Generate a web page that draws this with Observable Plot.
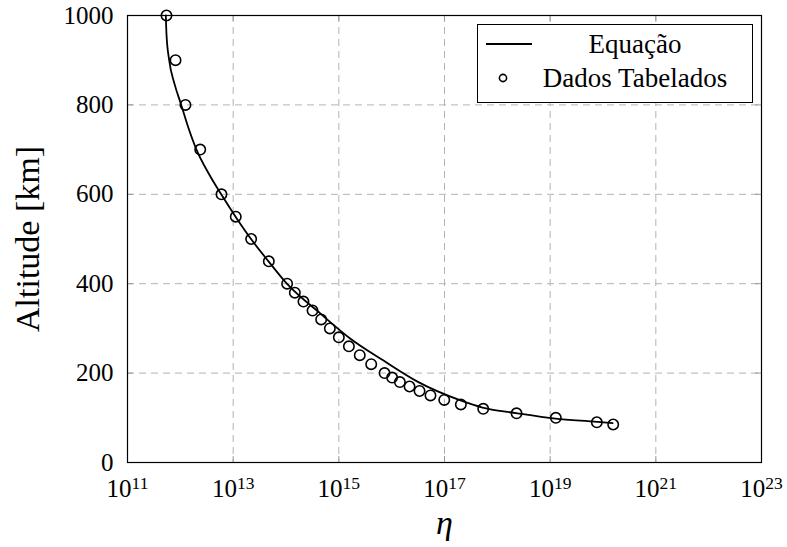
<!DOCTYPE html>
<html>
<head>
<meta charset="utf-8">
<script src="https://cdn.jsdelivr.net/npm/d3@7"></script>
<script src="https://cdn.jsdelivr.net/npm/@observablehq/plot@0.6"></script>
<style>
  body { margin: 0; background: white; }
  #wrap { position: relative; width: 787px; height: 547px; }
  #legend { position: absolute; left: 477px; top: 24px; width: 274px; height: 77px;
            border: 1.2px solid #000; background: #fff; }
</style>
</head>
<body>
<div id="wrap"></div>
<script>
// Tabulated data (Dados Tabelados)
const dataAltitude = [1000, 900, 800, 700, 600, 550, 500, 450, 400, 380, 360, 340, 320, 300, 280,
  260, 240, 220, 200, 190, 180, 170, 160, 150, 140, 130, 120, 110, 100, 90, 85];
const dataEta = [5.47e11, 8.11e11, 1.25e12, 2.38e12, 6.01e12, 1.12e13, 2.19e13, 4.73e13, 1.05e14,
  1.47e14, 2.14e14, 3.18e14, 4.63e14, 6.76e14, 1.00e15, 1.55e15, 2.49e15, 4.10e15, 7.33e15,
  1.02e16, 1.43e16, 2.18e16, 3.37e16, 5.43e16, 9.89e16, 2.04e17, 5.41e17, 2.31e18, 1.28e19,
  7.64e19, 1.56e20];

// Equation curve
const curveAltitude = [1000, 958, 900, 847, 800, 750, 700, 646, 600, 550, 500, 450, 400, 333, 277,
  228, 181, 139, 123, 110, 98, 91, 88];
const curveEta = [5.31e11, 5.47e11, 6.15e11, 7.76e11, 1.04e12, 1.41e12, 2.02e12, 3.46e12, 5.94e12,
  1.11e13, 2.18e13, 4.67e13, 1.04e14, 4.50e14, 1.66e15, 7.02e15, 3.08e16, 2.01e17, 5.25e17,
  2.41e18, 1.26e19, 7.89e19, 1.52e20];

const xTicks = [1e11, 1e13, 1e15, 1e17, 1e19, 1e21, 1e23];
const yTicks = [0, 200, 400, 600, 800, 1000];
const xGrid = [1e13, 1e15, 1e17, 1e19, 1e21];
const yGrid = [200, 400, 600, 800];
const legendLabels = ["Equação", "Dados Tabelados"];

const points = dataEta.map((e, i) => ({eta: e, alt: dataAltitude[i]}));
const curve = curveEta.map((e, i) => ({eta: e, alt: curveAltitude[i]}));

const plot = Plot.plot({
  width: 787, height: 547,
  marginLeft: 127, marginRight: 26, marginTop: 15, marginBottom: 85,
  style: {fontFamily: "Liberation Serif", fontSize: "25px", color: "#000", background: "#fff"},
  x: {type: "log", domain: [1e11, 1e23]},
  y: {domain: [0, 1000]},
  marks: [
    Plot.ruleX(xGrid, {stroke: "#b3b3b3", strokeWidth: 1, strokeDasharray: "7,5"}),
    Plot.ruleY(yGrid, {stroke: "#b3b3b3", strokeWidth: 1, strokeDasharray: "7,5"}),
    Plot.ruleX(xGrid, {stroke: "#999", insetBottom: 441}),
    Plot.ruleX(xGrid, {stroke: "#999", insetTop: 441}),
    Plot.ruleY(yGrid, {stroke: "#999", insetRight: 628}),
    Plot.ruleY(yGrid, {stroke: "#999", insetLeft: 628}),
    Plot.axisX({ticks: xTicks, tickSize: 0, tickPadding: 17, label: null,
      tickFormat: d => "10^" + Math.round(Math.log10(d))}),
    Plot.axisY({ticks: yTicks, tickSize: 0, tickPadding: 14, label: null, tickFormat: d => String(d)}),
    Plot.line(curve, {x: "eta", y: "alt", stroke: "#000", strokeWidth: 1.8, curve: "monotone-x"}),
    Plot.dot(points, {x: "eta", y: "alt", r: 5.2, stroke: "#000", strokeWidth: 1.6, fill: "none"}),
    Plot.frame({stroke: "#000", strokeWidth: 1.2}),
    Plot.text(["Altitude [km]"], {frameAnchor: "left", dx: -99, rotate: -90, fontSize: 34,
      textAnchor: "middle", fill: "#000"}),
    Plot.text(["η"], {frameAnchor: "bottom", dy: 61, fontSize: 34, fontStyle: "italic",
      lineAnchor: "middle", fill: "#000"})
  ]
});

// superscript exponents on the x tick labels
d3.select(plot).selectAll('g[aria-label="x-axis tick label"] text').each(function() {
  const t = d3.select(this);
  const s = t.text();
  if (!s.includes("^")) return;
  const [b, e] = s.split("^");
  t.text(b);
  t.append("tspan").attr("dy", "-0.45em").attr("font-size", "0.7em").text(e);
});

const wrap = document.getElementById("wrap");
wrap.appendChild(plot);

// legend
const leg = document.createElement("div");
leg.id = "legend";
wrap.appendChild(leg);
const ls = d3.select(leg).append("svg").attr("width", 274).attr("height", 77)
  .style("font-family", "Liberation Serif").style("font-size", "27px");
ls.append("line").attr("x1", 8).attr("x2", 54).attr("y1", 19).attr("y2", 19)
  .attr("stroke", "#000").attr("stroke-width", 1.8);
ls.append("circle").attr("cx", 25).attr("cy", 53).attr("r", 3.6)
  .attr("fill", "none").attr("stroke", "#000").attr("stroke-width", 1.6);
ls.selectAll("text.lab").data(legendLabels).join("text").attr("class", "lab")
  .attr("x", 157).attr("y", (d, i) => 19 + i * 34)
  .attr("text-anchor", "middle").attr("dominant-baseline", "central")
  .text(d => d);
</script>
</body>
</html>
